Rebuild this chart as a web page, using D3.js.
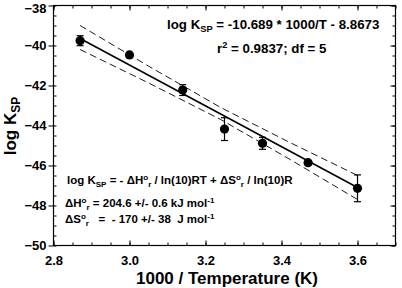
<!DOCTYPE html>
<html><head><meta charset="utf-8">
<script src="https://cdn.jsdelivr.net/npm/d3@7"></script>
<style>
body{margin:0;background:#fff}
svg{display:block}
text{font-family:"Liberation Sans",Arial,Helvetica,sans-serif;font-weight:bold;fill:#000;white-space:pre}
</style>
</head><body>
<svg id="c" width="402" height="288"></svg>
<script>
// ---- data ----
const invTemp = [2.87, 3.00, 3.14, 3.25, 3.35, 3.47, 3.60];
const logKsp  = [-39.76, -40.47, -42.23, -44.18, -44.89, -45.86, -47.14];
const errBar  = [0.25, 0.1, 0.27, 0.57, 0.3, 0.1, 0.67];
const fitX = [2.87, 3.60];
const fitY = [-39.65, -47.10];
const bandX     = [2.87, 3.05, 3.24, 3.42, 3.60];
const bandUpper = [-39.00, -41.03, -43.10, -44.83, -46.50];
const bandLower = [-40.20, -41.87, -43.70, -45.67, -47.70];
const xTicks = [2.8, 3.0, 3.2, 3.4, 3.6];
const yTicks = [-50, -48, -46, -44, -42, -40, -38];
const xMinor = d3.range(2.8, 3.7001, 0.05);
const yMinor = d3.range(-50, -37.999, 0.5);

const svg = d3.select("#c");
const L = 53.5, R = 395.5, T = 5.5, B = 245.5;
const x = d3.scaleLinear().domain([2.8, 3.7]).range([L, R]);
const y = d3.scaleLinear().domain([-50, -38]).range([B, T]);

// frame
svg.append("rect").attr("x", L).attr("y", T).attr("width", R - L).attr("height", B - T)
  .attr("fill", "none").attr("stroke", "#000").attr("stroke-width", 1.2);

// axes
const fmtX = d3.format(".1f");
const gB = svg.append("g").attr("transform", `translate(0,${B})`)
  .call(d3.axisBottom(x).tickValues(xTicks).tickFormat(fmtX).tickSizeInner(-5).tickSizeOuter(0).tickPadding(10));
const gBm = svg.append("g").attr("transform", `translate(0,${B})`)
  .call(d3.axisBottom(x).tickValues(xMinor).tickFormat("").tickSizeInner(-3).tickSizeOuter(0));
const gT = svg.append("g").attr("transform", `translate(0,${T})`)
  .call(d3.axisTop(x).tickValues(xTicks).tickFormat("").tickSizeInner(-5).tickSizeOuter(0));
const gTm = svg.append("g").attr("transform", `translate(0,${T})`)
  .call(d3.axisTop(x).tickValues(xMinor).tickFormat("").tickSizeInner(-3).tickSizeOuter(0));
const gL = svg.append("g").attr("transform", `translate(${L},0)`)
  .call(d3.axisLeft(y).tickValues(yTicks).tickFormat(d3.format("d")).tickSizeInner(5).tickSizeOuter(0).tickPadding(2));
const gLm = svg.append("g").attr("transform", `translate(${L},0)`)
  .call(d3.axisLeft(y).tickValues(yMinor).tickFormat("").tickSizeInner(-3).tickSizeOuter(0));
const gR = svg.append("g").attr("transform", `translate(${R},0)`)
  .call(d3.axisRight(y).tickValues(yTicks).tickFormat("").tickSizeInner(-5).tickSizeOuter(0));
const gRm = svg.append("g").attr("transform", `translate(${R},0)`)
  .call(d3.axisRight(y).tickValues(yMinor).tickFormat("").tickSizeInner(-3).tickSizeOuter(0));
[gB, gBm, gT, gTm, gL, gLm, gR, gRm].forEach(g => {
  g.select(".domain").remove();
  g.selectAll("line").attr("stroke", "#000").attr("stroke-width", 1);
  g.selectAll("text").attr("font-size", 13).attr("font-family", null).attr("fill", "#000");
});
// keep the top label inside the canvas
gL.selectAll(".tick").filter(d => d === -38).select("text").attr("dy", "0.55em");

// confidence bands (dashed)
const line = d3.line().x(d => x(d[0])).y(d => y(d[1]));
svg.append("path").datum(bandX.map((v, i) => [v, bandUpper[i]]))
  .attr("d", line).attr("fill", "none").attr("stroke", "#000").attr("stroke-width", 0.9).attr("stroke-dasharray", "7,4");
svg.append("path").datum(bandX.map((v, i) => [v, bandLower[i]]))
  .attr("d", line).attr("fill", "none").attr("stroke", "#000").attr("stroke-width", 0.9).attr("stroke-dasharray", "7,4");
// regression line
svg.append("path").datum(fitX.map((v, i) => [v, fitY[i]]))
  .attr("d", line).attr("fill", "none").attr("stroke", "#000").attr("stroke-width", 1.6);

// error bars
const pts = invTemp.map((v, i) => ({x: v, y: logKsp[i], e: errBar[i]}));
const eb = svg.append("g").attr("stroke", "#000").attr("stroke-width", 1.2);
pts.forEach(p => {
  eb.append("line").attr("x1", x(p.x)).attr("x2", x(p.x)).attr("y1", y(p.y + p.e)).attr("y2", y(p.y - p.e));
  [p.y + p.e, p.y - p.e].forEach(v => eb.append("line")
    .attr("x1", x(p.x) - 3.5).attr("x2", x(p.x) + 3.5).attr("y1", y(v)).attr("y2", y(v)));
});
svg.append("g").selectAll("circle").data(pts).join("circle")
  .attr("cx", d => x(d.x)).attr("cy", d => y(d.y)).attr("r", 4.6).attr("fill", "#000");

// rich text helper
function rich(xp, yp, size, segs, anchor) {
  const t = svg.append("text").attr("x", xp).attr("y", yp).attr("font-size", size).attr("xml:space", "preserve");
  if (anchor) t.attr("text-anchor", anchor);
  let shift = 0;
  segs.forEach(s => {
    const sp = t.append("tspan").text(s.t);
    let target = 0;
    if (s.sub) { sp.attr("font-size", size * 0.7); target = size * 0.22; }
    else if (s.sup) { sp.attr("font-size", size * 0.7); target = -size * 0.38; }
    sp.attr("dy", target - shift);
    shift = target;
  });
  return t;
}

rich(167, 29, 13.3, [{t: "log K"}, {t: "SP", sub: true}, {t: " = -10.689 * 1000/T - 8.8673"}]);
rich(217, 53, 13.3, [{t: "r"}, {t: "2", sup: true}, {t: " = 0.9837; df = 5"}]);
rich(67, 184, 11.5, [{t: "log K"}, {t: "SP", sub: true}, {t: " = - ΔH"}, {t: "o", sup: true}, {t: "r", sub: true},
  {t: " / ln(10)RT + ΔS"}, {t: "o", sup: true}, {t: "r", sub: true}, {t: " / ln(10)R"}]);
rich(65, 207, 11.5, [{t: "ΔH"}, {t: "o", sup: true}, {t: "r", sub: true}, {t: " = 204.6 +/- 0.6 kJ mol"}, {t: "-1", sup: true}]);
rich(65, 223, 11.5, [{t: "ΔS"}, {t: "o", sup: true}, {t: "r", sub: true}, {t: "   =  - 170 +/- 38  J mol"}, {t: "-1", sup: true}]);

// axis titles
svg.append("text").attr("x", 227).attr("y", 284).attr("text-anchor", "middle").attr("font-size", 17)
  .text("1000 / Temperature (K)");
const yl = svg.append("g").attr("transform", "translate(16,126) rotate(-90)");
const ylt = yl.append("text").attr("text-anchor", "middle").attr("font-size", 17);
ylt.append("tspan").text("log K");
ylt.append("tspan").text("SP").attr("font-size", 12).attr("dy", 4);
</script>
</body></html>
